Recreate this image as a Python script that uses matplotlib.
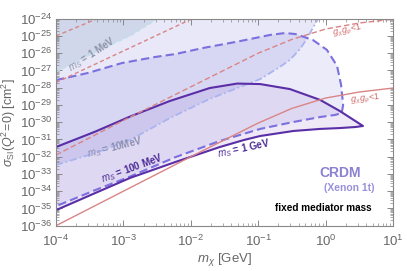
import numpy as np
import matplotlib
matplotlib.use("Agg")
import matplotlib.pyplot as plt
from matplotlib.ticker import FixedLocator, NullFormatter

plt.rcParams['font.family'] = ['Liberation Sans', 'DejaVu Sans']
plt.rcParams['mathtext.fontset'] = 'custom'
plt.rcParams['mathtext.rm'] = 'Liberation Sans'
plt.rcParams['mathtext.it'] = 'Liberation Sans:italic'
plt.rcParams['mathtext.bf'] = 'Liberation Sans:bold'

# ---- data (log10 m_chi [GeV], log10 sigma [cm^2]) ----
# m_S = 1 GeV exclusion contour (solid)
gev_up_x = [-4.0, -3.42, -2.90, -2.31, -1.72, -1.31, -0.97, -0.53, -0.08, 0.21, 0.44, 0.555]
gev_up_y = [-31.44, -30.55, -29.67, -28.77, -28.02, -27.76, -27.79, -28.08, -28.71, -29.35, -29.93, -30.22]
gev_lo_x = [-4.0, -3.42, -2.90, -2.23, -1.57, -1.21, -0.97, -0.48, -0.08, 0.21, 0.44, 0.555]
gev_lo_y = [-35.10, -34.11, -33.23, -32.31, -31.44, -31.03, -30.80, -30.51, -30.39, -30.34, -30.28, -30.22]

# m_S = 100 MeV exclusion contour (dashed)
m100_up_x = [-4.0, -3.53, -3.02, -2.53, -2.23, -1.82, -1.31, -0.82, -0.60, -0.45, -0.19, 0.02, 0.17, 0.23, 0.26, 0.24]
m100_up_y = [-27.56, -27.15, -26.57, -26.22, -26.05, -25.70, -25.33, -24.94, -24.83, -24.89, -25.23, -25.81, -26.74, -27.84, -29.0, -29.47]
m100_lo_x = [-4.0, -3.42, -2.90, -2.23, -1.57, -0.97, -0.48, -0.08, 0.14, 0.24]
m100_lo_y = [-34.87, -33.94, -33.15, -32.03, -31.09, -30.39, -29.99, -29.70, -29.58, -29.47]

# m_S = 10 MeV lower edge (dash-dot); region extends upward
m10_x = [-4.0, -3.42, -2.90, -2.31, -1.72, -1.27, -0.97, -0.68, -0.53, -0.38, -0.28, -0.19, -0.11]
m10_y = [-32.48, -31.79, -31.03, -29.76, -28.65, -27.96, -27.50, -26.80, -26.39, -25.76, -25.18, -24.54, -24.0]

# m_S = 1 MeV lower edge (dashed); region extends upward
m1_x = [-4.0, -3.35, -2.90, -2.49]
m1_y = [-27.09, -25.81, -25.0, -24.0]

# g_chi g_p < 1 lines
redA_x = [-4.0, -3.39]
redA_y = [-25.0, -24.0]
redB_x = [-4.0, -2.23, -1.98]
redB_y = [-27.7, -24.46, -24.0]
redC_x = [-4.0, -3.0, -2.0, -1.0, -0.5, 0.0, 0.5, 1.0]
redC_y = [-31.9, -29.9, -27.95, -26.0, -25.2, -24.6, -24.25, -24.03]
redD_x = [-4.0, -3.0, -2.0, -1.0, -0.5, 0.0, 0.5, 1.0]
redD_y = [-36.0, -34.0, -32.0, -30.05, -29.2, -28.6, -28.25, -28.02]

# axis decades
x_decades = list(range(-4, 2))
y_decades = list(range(-36, -23))

P = lambda a: 10.0 ** np.asarray(a)

fig = plt.figure(figsize=(4.07, 2.71), dpi=100)
ax = fig.add_axes([0.1376, 0.1672, 0.828, 0.7638])
ax.set_xscale('log')
ax.set_yscale('log')
ax.set_xlim(1e-4, 10)
ax.set_ylim(1e-36, 1e-24)

top = -23.0
# fills
ax.fill(P(m1_x + [m1_x[-1], m1_x[0]]), P(m1_y + [top, top]), color='#7fa6bf', alpha=0.22, lw=0)
ax.fill(P(m10_x + [m10_x[-1], m10_x[0]]), P(m10_y + [top, top]), color='#7a7ad8', alpha=0.17, lw=0)
ax.fill(P(m100_up_x + m100_lo_x[::-1]), P(m100_up_y + m100_lo_y[::-1]), color='#6e6ad6', alpha=0.13, lw=0)
ax.fill(P(gev_up_x + gev_lo_x[::-1]), P(gev_up_y + gev_lo_y[::-1]), color='#8a5cc8', alpha=0.13, lw=0)

# boundaries
ax.plot(P(m1_x), P(m1_y), color='#bfe0ea', lw=1.0, ls=(0, (3, 2)))
ax.plot(P(m10_x), P(m10_y), color='#a9b4f0', lw=1.3, ls=(0, (4, 1.5, 1, 1.5)))
ax.plot(P(m100_up_x + m100_lo_x[::-1]), P(m100_up_y + m100_lo_y[::-1]), color='#7b70de', lw=1.5, ls=(0, (4, 2)))
ax.plot(P(gev_up_x + gev_lo_x[::-1]), P(gev_up_y + gev_lo_y[::-1]), color='#5a2ea6', lw=1.5)

red = '#d98585'
ax.plot(P(redA_x), P(redA_y), color=red, lw=1.0, ls=(0, (3, 2)))
ax.plot(P(redB_x), P(redB_y), color=red, lw=1.0, ls=(0, (3, 2)))
ax.plot(P(redC_x), P(redC_y), color=red, lw=1.0, ls=(0, (4, 2)))
ax.plot(P(redD_x), P(redD_y), color=red, lw=1.0)

# labels
gray = '#666666'
ax.text(10**-3.47, 10**-26.05, r'$m_S$ = 1 MeV', color='#8f95a8', fontsize=7, fontweight='bold', rotation=33, ha='center', va='center')
ax.text(10**-3.12, 10**-31.45, r'$m_S$ = 10MeV', color='#8a8fb2', fontsize=7, fontweight='bold', rotation=14, ha='center', va='center')
ax.text(10**-2.87, 10**-32.7, r'$m_S$ = 100 MeV', color='#4b2a95', fontsize=7, fontweight='bold', rotation=20, ha='center', va='center')
ax.text(10**-1.21, 10**-31.55, r'$m_S$ = 1 GeV', color='#4b2a95', fontsize=7, fontweight='bold', rotation=12, ha='center', va='center')
ax.text(10**0.33, 10**-24.7, r'$g_\chi\, g_p$<1', color='#d06a6a', fontsize=6.5, rotation=12, ha='center', va='center')
ax.text(10**0.6, 10**-28.7, r'$g_\chi\, g_p$<1', color='#d06a6a', fontsize=6.5, rotation=6, ha='center', va='center')

ax.text(10**0.22, 10**-32.94, 'CRDM', color='#8b80d2', fontsize=10, fontweight='bold', ha='center', va='center')
ax.text(10**0.35, 10**-33.81, '(Xenon 1t)', color='#9a90da', fontsize=7.5, fontweight='bold', ha='center', va='center')
ax.text(10**-0.04, 10**-34.97, 'fixed mediator mass', color='black', fontsize=7.2, fontweight='bold', ha='center', va='center')

# axes styling
for s in ax.spines.values():
    s.set_color('#888888')
    s.set_linewidth(0.8)
xmaj = [10.0 ** k for k in x_decades]
ymaj = [10.0 ** k for k in y_decades]
xmin = [m * 10.0 ** k for k in x_decades[:-1] for m in range(2, 10)]
ymin = [m * 10.0 ** k for k in y_decades[:-1] for m in range(2, 10)]
ax.xaxis.set_major_locator(FixedLocator(xmaj))
ax.yaxis.set_major_locator(FixedLocator(ymaj))
ax.xaxis.set_minor_locator(FixedLocator(xmin))
ax.yaxis.set_minor_locator(FixedLocator(ymin))
ax.set_xticklabels([r'$10^{%d}$' % k for k in x_decades])
ax.set_yticklabels([r'$10^{%d}$' % k for k in y_decades])
ax.xaxis.set_minor_formatter(NullFormatter())
ax.yaxis.set_minor_formatter(NullFormatter())
ax.tick_params(which='both', direction='in', top=True, right=True, color='#888888', labelcolor=gray, labelsize=9.5)
ax.tick_params(which='major', length=4, width=0.7)
ax.tick_params(which='minor', length=2, width=0.5)
ax.tick_params(axis='x', which='major', pad=6)
ax.tick_params(axis='y', which='major', pad=3)

ax.set_xlabel(r'$m_\chi$ [GeV]', color=gray, fontsize=9.5, labelpad=1)
ax.set_ylabel(r'$\sigma_{\mathrm{SI}}(Q^2\!=\!0)$ [cm$^2$]', color=gray, fontsize=9, labelpad=1)

fig.savefig('out.png', dpi=100)
